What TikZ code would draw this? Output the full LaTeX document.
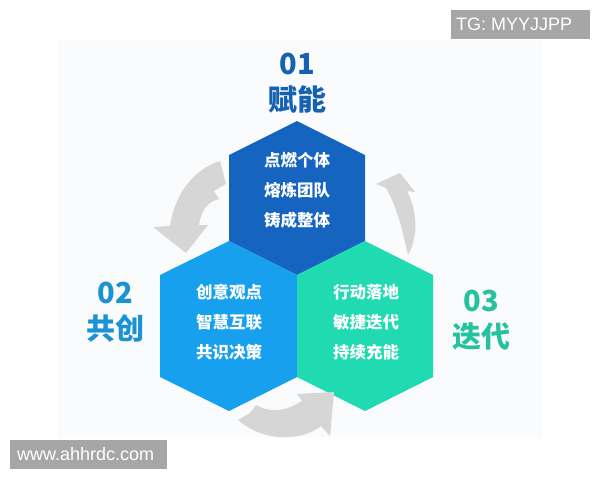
\documentclass[tikz,border=0pt]{standalone}
\usepackage{fontspec}
\setmainfont{Liberation Sans}
\newfontfamily\cjk{Noto Sans CJK SC}
\usepackage{tikz}
\usetikzlibrary{positioning}

\definecolor{hexdark}{RGB}{20,100,192}
\definecolor{hexlight}{RGB}{22,160,238}
\definecolor{hexmint}{RGB}{32,218,178}
\definecolor{labdark}{RGB}{22,98,178}
\definecolor{lablight}{RGB}{26,146,212}
\definecolor{labmint}{RGB}{38,194,160}
\definecolor{arrowgray}{RGB}{214,214,214}
\definecolor{markgray}{RGB}{166,166,166}
\definecolor{panelgray}{RGB}{250,251,253}

\tikzset{
  hextext/.style={text=white,align=center,font=\cjk\bfseries\fontsize{16.5}{30}\selectfont},
  numtext/.style={font=\cjk\bfseries\fontsize{29}{30}\selectfont},
  cyclearrow/.style={fill=arrowgray},
  marktext/.style={text=white,anchor=west,inner sep=0pt,font=\fontsize{18}{20}\selectfont}
}

\begin{document}
\begin{tikzpicture}[x=1pt,y=-1pt]
\useasboundingbox (0,0) rectangle (600,480);
\fill[white] (0,0) rectangle (600,480);
\fill[panelgray] (58,40) rectangle (542,437);

% three hexagons
\fill[hexdark] (297,121) -- (365,155) -- (365,241) -- (297,275) -- (229,241) -- (229,155) -- cycle;
\fill[hexlight] (229,241) -- (297,275) -- (297,377) -- (229,411) -- (160,377) -- (160,275) -- cycle;
\fill[hexmint] (365,241) -- (433,275) -- (433,377) -- (365,411) -- (297,377) -- (297,275) -- cycle;

\node[hextext] (topbox) at (297,190) {点燃个体\\熔炼团队\\铸成整体};
\node[hextext] (leftbox) at (229,322.5) {创意观点\\智慧互联\\共识决策};
\node[hextext] (rightbox) at (366,322.5) {行动落地\\敏捷迭代\\持续充能};

% step labels
\node[numtext,text=labdark] (num1) at (297,64) {01};
\node[numtext,text=labdark] (name1) at (297,99) {赋能};
\node[numtext,text=lablight] (num2) at (115,293) {02};
\node[numtext,text=lablight] (name2) at (115,328) {共创};
\node[numtext,text=labmint] (num3) at (481,301) {03};
\node[numtext,text=labmint] (name3) at (481,336) {迭代};

% gray cycle arrows
\fill[cyclearrow] (220,161) .. controls (195,169) and (175,192) .. (170,226) -- (153,227) -- (186,253) -- (208,225) -- (199,225) .. controls (201,211) and (207,202) .. (219,199) -- (214,191) -- (226,184) -- cycle;
\fill[cyclearrow] (408,255) .. controls (403,232) and (397,207) .. (386,188) -- (376,184) -- (400,173) -- (415,192) -- (407,191) .. controls (417,210) and (419,236) .. (408,255) -- cycle;
\fill[cyclearrow] (238,420) -- (250,413) -- (256,405) .. controls (272,414) and (288,410) .. (302,401) -- (297,394) -- (334,392) -- (330,436) -- (321,426) .. controls (302,441) and (265,443) .. (238,420) -- cycle;

% watermarks
\fill[markgray] (451,10) rectangle (590,39);
\node[marktext] (tgmark) at (456,24.5) {TG: MYYJJPP};
\fill[markgray] (10,440) rectangle (167,469);
\node[marktext] (webmark) at (17,454.5) {www.ahhrdc.com};
\end{tikzpicture}
\end{document}
